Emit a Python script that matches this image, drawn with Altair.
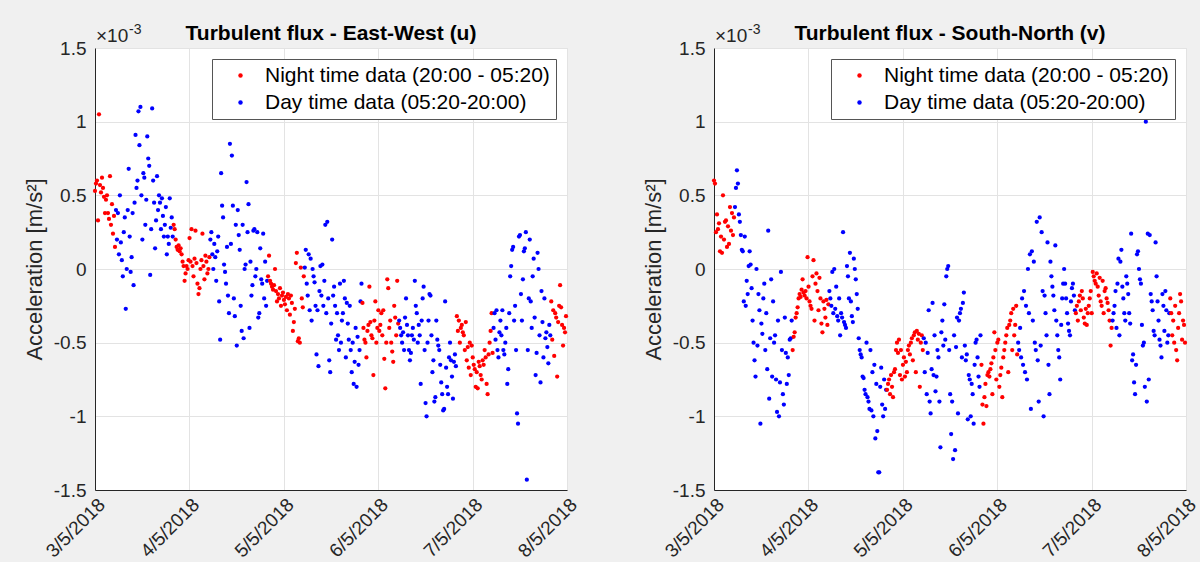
import altair as alt
import pandas as pd

# ---------------- labels / categories ----------------
tick_labels = ["3/5/2018", "4/5/2018", "5/5/2018", "6/5/2018", "7/5/2018", "8/5/2018"]
y_ticks = [-1.5, -1, -0.5, 0, 0.5, 1, 1.5]
series_names = ["Night time data (20:00 - 05:20)", "Day time data (05:20-20:00)"]
series_colors = ["#ff0000", "#0000ff"]
panel_titles = ["Turbulent flux - East-West (u)", "Turbulent flux - South-North (v)"]
y_title = "Acceleration [m/s²]"
exponent_base = "×10"
exponent_power = "-3"

# segment boundaries (hours since 3/5/2018 00:00) and which series each belongs to
segment_bounds = [0, 5.333, 20, 29.333, 44, 53.333, 68, 77.333, 92, 101.333, 116, 120]
segment_series = [0, 1, 0, 1, 0, 1, 0, 1, 0, 1, 0]

# ---------------- East-West (u), values in 1e-3 m/s^2 ----------------
u_n0 = [0.53, 0.58, 0.60, 0.33, 1.05, 0.57, 0.52, 0.62, 0.55, 0.49, 0.38, 0.47, 0.50, 0.38, 0.34,
        0.63, 0.30, 0.44, 0.24, 0.36, 0.15]
u_d1 = [0.40, 0.20, 0.38, 0.10, 0.50, 0.18, 0.06, -0.05, 0.25, 0.35, -0.27, 0.00, 0.40, 0.68, 0.22,
        -0.02, 0.08, 0.38, -0.11, 0.45, 0.91, 0.55, 0.60, 1.07, 0.84, 1.10, 0.50, 0.20, 0.65, 0.62,
        0.30, 0.47, 0.90, 0.75, 0.70, -0.04, 0.27, 1.09, 0.60, 0.45, 0.14, 0.33, 0.63, 0.40, 0.50,
        0.45, 0.27, 0.48, 0.36, 0.22, 0.30, 0.42, 0.10, 0.22, 0.17, 0.48, 0.28, 0.35, 0.22]
u_n1 = [0.30, 0.27, 0.20, 0.15, 0.13, 0.16, 0.12, 0.14, 0.10, 0.05, 0.02, -0.08, -0.03, 0.02, 0.00,
        0.06, 0.21, 0.05, 0.27, 0.02, -0.05, 0.07, 0.26, 0.04, -0.10, -0.17, -0.13, 0.00, 0.06, 0.24,
        0.02, -0.07, 0.09, 0.05, -0.03, 0.00, 0.08]
u_d2 = [0.20, 0.25, 0.10, 0.00, 0.17, 0.08, -0.08, 0.12, 0.22, -0.22, -0.48, 0.65, 0.43, 0.35, 0.03,
        -0.02, -0.10, 0.15, -0.18, -0.30, 0.85, 0.17, 0.77, 0.43, -0.20, -0.32, 0.30, -0.52, 0.40, 0.23,
        0.13, -0.25, -0.42, 0.30, -0.47, 0.00, 0.03, 0.59, 0.25, 0.44, -0.40, 0.05, -0.18, -0.11, 0.26,
        0.27, -0.05, 0.00, 0.25, -0.33, -0.30, 0.14, -0.07, -0.10, 0.24, -0.20, 0.05, -0.25, -0.08]
u_n2 = [-0.05, 0.09, -0.08, -0.10, -0.12, -0.14, -0.11, 0.00, -0.15, -0.22, -0.17, -0.20, -0.13, -0.25,
        -0.18, -0.16, -0.21, -0.24, -0.19, -0.28, -0.17, -0.20, -0.31, -0.18, -0.23, -0.42, -0.36, -0.27,
        0.04, 0.11, -0.49, -0.47, -0.50, 0.01, -0.20, -0.26, -0.05]
u_d3 = [0.01, 0.13, -0.10, -0.18, 0.10, -0.28, 0.07, -0.35, 0.00, -0.05, -0.09, -0.25, -0.58, -0.28,
        -0.66, -0.15, 0.02, -0.18, 0.03, -0.25, -0.08, 0.30, -0.30, 0.32, -0.20, -0.62, -0.70, -0.37,
        0.20, -0.18, -0.12, -0.25, -0.48, -0.30, -0.45, -0.55, -0.10, -0.50, -0.35, -0.30, -0.08, -0.20,
        -0.60, -0.23, -0.37, -0.48, -0.25, -0.55, -0.70, -0.50, -0.78, -0.63, -0.40, -0.80, -0.46, -0.65,
        -0.55, -0.22, -0.10]
u_n3 = [-0.23, -0.40, -0.48, -0.50, -0.60, -0.42, -0.38, -0.12, -0.36, -0.45, -0.47, -0.72, -0.35,
        -0.22, -0.50, -0.40, -0.28, -0.42, -0.38, -0.30, -0.45, -0.28, -0.61, -0.81, -0.50, -0.07, -0.13,
        -0.40, -0.35, -0.50, -0.56, -0.63, -0.25, -0.33, -0.45, -0.08, -0.37]
u_d4 = [-0.35, -0.40, -0.45, -0.50, -0.43, -0.55, -0.33, -0.20, -0.38, -0.45, -0.55, -0.62, -0.57,
        -0.45, -0.40, -0.48, -0.08, -0.25, -0.30, -0.50, -0.38, -0.45, -0.78, -0.35, -0.20, -0.12, -0.55,
        -0.91, -1.00, -0.50, -0.35, -0.17, -0.18, -0.45, -0.70, -0.62, -0.90, -0.87, -0.35, -0.48, -0.52,
        -0.55, -0.65, -0.77, -0.85, -0.96, -0.95, -0.22, -0.67, -0.80, -0.85, -0.60, -0.50, -0.62, -0.73,
        -0.88, -0.63, -0.58, -0.66]
u_n4 = [-0.32, -0.42, -0.35, -0.50, -0.40, -0.38, -0.43, -0.45, -0.55, -0.36, -0.62, -0.53, -0.67,
        -0.50, -0.72, -0.52, -0.60, -0.65, -0.68, -0.80, -0.70, -0.81, -0.63, -0.66, -0.72, -0.75, -0.62,
        -0.65, -0.55, -0.60, -0.78, -0.85, -0.58, -0.50, -0.42, -0.30, -0.57]
u_d5 = [-0.40, -0.30, -0.48, -0.28, -0.55, -0.60, -0.43, -0.35, -0.45, -0.28, -0.55, -0.58, -0.50,
        -0.40, -0.78, -0.68, -0.30, -0.05, 0.02, 0.13, 0.15, -0.35, -0.25, -0.55, -0.98, -1.05, 0.22,
        0.23, -0.17, -0.35, -0.07, 0.12, 0.14, 0.25, -1.43, -0.55, -0.20, 0.20, -0.22, -0.40, -0.05, 0.07,
        -0.33, -0.72, -0.57, 0.11, 0.00, -0.45, -0.77, -0.15, -0.36, -0.60, -0.20, -0.47, -0.43, -0.53,
        -0.64, -0.38, -0.45]
u_n5 = [-0.22, -0.48, -0.28, -0.59, -0.30, -0.33, -0.73, -0.36, -0.25, -0.11, -0.26, -0.38, -0.52,
        -0.40, -0.43, -0.32]

# ---------------- South-North (v), values in 1e-3 m/s^2 ----------------
v_n0 = [0.60, 0.58, 0.25, 0.37, 0.27, 0.31, 0.12, 0.22, 0.11, 0.50, 0.20, 0.32, 0.33, 0.15, 0.29,
        0.17, 0.42, 0.26, 0.38, 0.23, 0.35]
v_d1 = [0.42, 0.55, 0.67, 0.58, 0.37, 0.32, 0.23, 0.13, 0.12, -0.22, 0.22, -0.25, -0.08, -0.17, 0.02,
        0.12, 0.03, -0.13, -0.35, -0.50, -0.62, -0.73, 0.00, -0.52, -0.17, -0.28, -1.05, -0.37, -0.44,
        -0.20, -0.10, -0.55, -0.30, -0.68, 0.26, -0.88, -0.47, -0.07, -0.73, -0.22, -0.50, -0.45, -0.75,
        -0.97, -0.35, -1.00, -0.77, -0.02, -0.55, -0.85, -0.92, -0.33, -0.57, -0.78, -0.60, -0.72, -0.48,
        -0.47, -0.35]
v_n1 = [-0.55, -0.46, -0.43, -0.33, -0.30, -0.26, -0.20, -0.17, -0.19, -0.14, -0.07, -0.16, -0.18,
        -0.15, -0.20, 0.08, -0.12, -0.22, -0.25, -0.27, -0.05, 0.06, -0.35, -0.10, -0.03, -0.15, -0.28,
        -0.06, -0.20, -0.37, -0.43, -0.22, -0.27, -0.33, -0.21, -0.38, -0.24]
v_d2 = [-0.15, -0.20, -0.25, -0.02, -0.30, 0.00, -0.27, -0.12, -0.32, -0.35, -0.20, -0.45, -0.30,
        -0.33, 0.25, -0.36, -0.38, -0.40, 0.02, -0.05, -0.20, 0.11, -0.22, -0.32, -0.36, 0.07, 0.00,
        -0.07, -0.17, -0.27, -0.47, -0.55, -0.58, -0.60, -0.73, -0.74, -0.82, -0.85, -0.50, -0.87, -0.90,
        -0.95, -0.55, -0.96, -0.70, -1.00, -0.65, -1.15, -0.78, -1.10, -1.38, -1.38, -0.80, -0.67, -0.92,
        -1.00, -0.75, -0.95, -0.82]
v_n2 = [-0.82, -0.78, -0.75, -0.85, -0.72, -0.80, -0.87, -0.70, -0.68, -0.55, -0.50, -0.57, -0.48,
        -0.72, -0.55, -0.75, -0.65, -0.60, -0.73, -0.63, -0.70, -0.55, -0.52, -0.58, -0.50, -0.47, -0.62,
        -0.45, -0.43, -0.70, -0.42, -0.48, -0.44, -0.80, -0.50, -0.45, -0.55]
v_d3 = [-0.47, -0.70, -0.50, -0.85, -0.57, -0.28, -0.90, -0.98, -0.68, -0.23, -0.72, -0.45, -0.83,
        -0.73, -0.55, -0.60, -0.90, -1.21, -0.43, -0.35, -0.52, -0.24, -0.48, -0.05, 0.00, 0.02, -0.55,
        -0.85, -1.12, -0.90, -1.29, -0.45, -1.23, -0.53, -0.33, -0.98, -0.35, -0.30, -0.27, -0.60, -0.23,
        -0.16, -0.52, -0.62, -0.58, -1.02, -0.72, -0.75, -1.00, -0.78, -0.85, -1.05, -0.65, -0.50, -0.48,
        -0.60, -0.73, -0.80, -0.45]
v_n3 = [-0.65, -0.92, -1.05, -0.87, -0.78, -0.93, -0.72, -0.70, -0.73, -0.68, -0.64, -0.85, -0.60,
        -0.43, -0.55, -0.75, -0.50, -0.48, -0.80, -0.72, -0.67, -0.87, -0.60, -0.55, -0.50, -0.45, -0.40,
        -0.70, -0.38, -0.35, -0.30, -0.55, -0.27, -0.45, -0.38, -0.25, -0.58]
v_d4 = [-0.50, -0.55, -0.40, -0.60, -0.20, -0.65, -0.15, -0.70, -0.25, -0.75, 0.00, -0.30, 0.10,
        -0.95, 0.12, -0.35, 0.05, -0.50, -0.55, 0.32, -0.62, -0.90, 0.35, -0.52, 0.25, -0.15, -1.00,
        -0.18, -0.30, -0.45, 0.18, -0.65, -0.85, 0.05, -0.05, -0.12, -0.18, -0.28, 0.16, -0.35, -0.45,
        -0.55, -0.60, -0.75, -0.38, -0.20, -0.10, 0.00, -0.10, -0.20, -0.30, -0.37, -0.42, -0.45, -0.22,
        -0.13, -0.10, -0.18, -0.28]
v_n4 = [-0.30, -0.25, -0.35, -0.22, -0.18, -0.28, -0.15, -0.20, -0.33, -0.37, -0.27, -0.38, -0.30,
        -0.25, -0.20, -0.15, -0.30, -0.02, -0.05, -0.08, -0.10, -0.03, -0.12, -0.18, -0.06, -0.22, -0.25,
        -0.08, -0.30, -0.15, -0.13, -0.20, -0.23, -0.28, -0.35, -0.52, -0.40]
v_d5 = [-0.35, -0.30, -0.25, -0.15, -0.40, -0.10, 0.07, -0.45, 0.05, 0.13, -0.12, -0.20, -0.30, -0.35,
        -0.05, -0.10, -0.17, -0.30, -0.37, 0.24, -0.62, -0.58, -0.77, -0.85, -0.65, 0.10, 0.12, 0.00,
        -0.07, -0.10, -0.38, -0.52, -0.50, -0.80, 1.00, -0.90, 0.24, -0.75, 0.23, -0.17, -0.22, -0.28,
        -0.42, -0.45, 0.18, -0.05, -0.22, -0.35, -0.48, -0.52, -0.60, -0.17, -0.25, -0.42, -0.15, -0.28,
        -0.50, -0.45, -0.30]
v_n5 = [-0.20, -0.30, -0.45, -0.35, -0.50, -0.25, -0.55, -0.62, -0.40, -0.30, -0.17, -0.22, -0.48,
        -0.35, -0.38, -0.50]

u_segments = [u_n0, u_d1, u_n1, u_d2, u_n2, u_d3, u_n3, u_d4, u_n4, u_d5, u_n5]
v_segments = [v_n0, v_d1, v_n1, v_d2, v_n2, v_d3, v_n3, v_d4, v_n4, v_d5, v_n5]

FONT = "Liberation Sans"
PLOT_W, PLOT_H = 472, 442


def build_frame(segments):
    rows = []
    for k, vals in enumerate(segments):
        start, end = segment_bounds[k], segment_bounds[k + 1]
        n = len(vals)
        for i, v in enumerate(vals):
            hours = start + i * (end - start) / n
            rows.append({"day": hours / 24.0, "acc": v, "series": series_names[segment_series[k]]})
    return pd.DataFrame(rows)


label_array = "[" + ",".join("'" + s + "'" for s in tick_labels) + "]"


def panel(df, title):
    pts = alt.Chart(df).mark_circle(size=18, opacity=1).encode(
        x=alt.X("day:Q",
                scale=alt.Scale(domain=[0, 5], nice=False, zero=False),
                axis=alt.Axis(values=list(range(len(tick_labels))),
                              labelExpr=label_array + "[round(datum.value)]",
                              title=None, labelAngle=-45, labelAlign="right",
                              labelBaseline="top", ticks=False, labelPadding=5)),
        y=alt.Y("acc:Q",
                scale=alt.Scale(domain=[-1.5, 1.5], nice=False, zero=False),
                axis=alt.Axis(values=y_ticks, labelExpr="toString(datum.value)",
                              title=y_title, ticks=False, labelPadding=9, titlePadding=7)),
        color=alt.Color("series:N",
                        scale=alt.Scale(domain=series_names, range=series_colors),
                        legend=alt.Legend(title=None, orient="top-right", offset=11,
                                          fillColor="white", strokeColor="#555555",
                                          padding=6, labelFontSize=21, labelFont=FONT,
                                          labelColor="#000000", labelLimit=600,
                                          symbolType="circle", symbolSize=20,
                                          symbolStrokeWidth=0, symbolOffset=12,
                                          labelOffset=14, rowPadding=5)),
    )
    title_df = pd.DataFrame({"txt": [title]})
    ttl = alt.Chart(title_df).mark_text(
        align="center", baseline="alphabetic", fontSize=21, fontWeight="bold", font=FONT, color="#000000"
    ).encode(x=alt.value(PLOT_W / 2), y=alt.value(-8), text="txt:N")
    expo_df = pd.DataFrame({"base": [exponent_base], "power": [exponent_power]})
    expo1 = alt.Chart(expo_df).mark_text(
        align="left", baseline="alphabetic", fontSize=19, font=FONT, color="#262626"
    ).encode(x=alt.value(1), y=alt.value(-6), text="base:N")
    expo2 = alt.Chart(expo_df).mark_text(
        align="left", baseline="alphabetic", fontSize=14, font=FONT, color="#262626"
    ).encode(x=alt.value(34), y=alt.value(-14), text="power:N")
    return alt.layer(pts, ttl, expo1, expo2).properties(width=PLOT_W, height=PLOT_H)


df_u = build_frame(u_segments)
df_v = build_frame(v_segments)

chart = alt.hconcat(panel(df_u, panel_titles[0]), panel(df_v, panel_titles[1]), spacing=60).resolve_legend(
    color="independent"
).resolve_scale(color="independent").properties(
    background="#f0f0f0",
    padding={"left": 22, "top": 22, "right": 0, "bottom": 0},
).configure_view(
    fill="white", stroke="#e3e3e3", strokeWidth=1
).configure_axis(
    labelFont=FONT, labelFontSize=19, labelColor="#262626",
    titleFont=FONT, titleFontSize=22, titleColor="#262626", titleFontWeight="normal",
    domainColor="#262626", gridColor="#e3e3e3", grid=True,
)

chart.save("out.html", embed_options={"renderer": "svg", "actions": False})
